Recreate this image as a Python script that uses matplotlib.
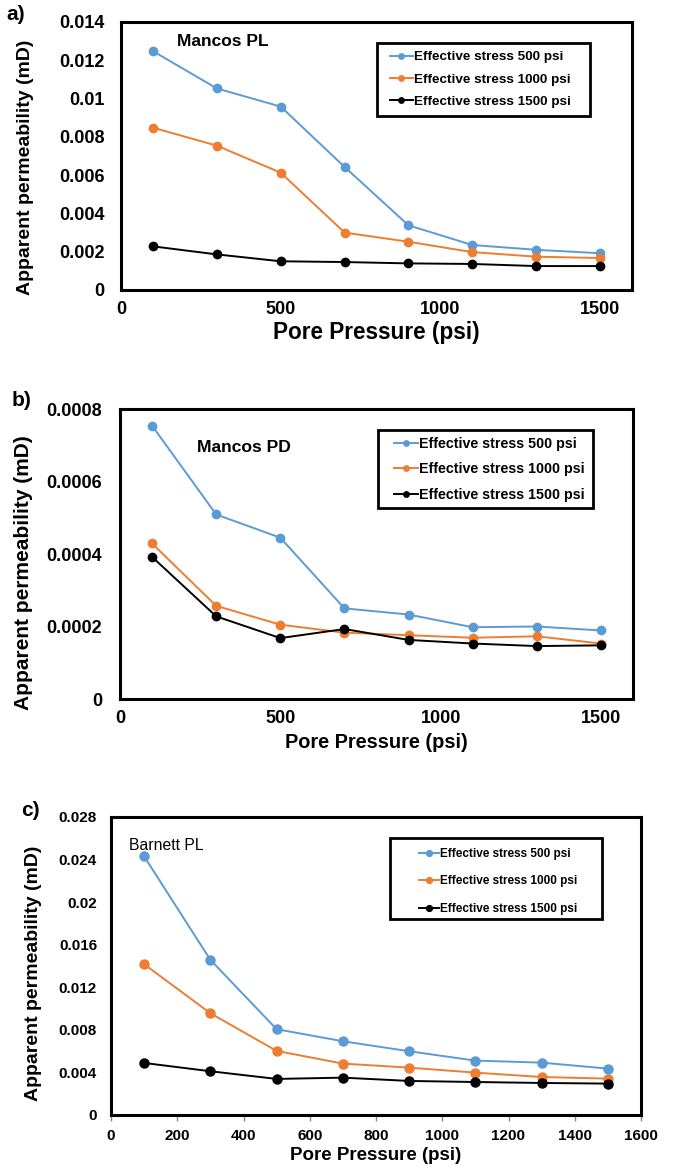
import matplotlib
matplotlib.use("Agg")
import matplotlib.pyplot as plt
from matplotlib.patches import Rectangle

plt.rcParams['font.family'] = ['Liberation Sans', 'DejaVu Sans']
plt.rcParams['font.weight'] = 'bold'

W, H = 678, 1167

pressure = [100, 300, 500, 700, 900, 1100, 1300, 1500]
labels = ['Effective stress 500 psi', 'Effective stress 1000 psi', 'Effective stress 1500 psi']
colors = ['#5B9BD5', '#ED7D31', 'black']

# Mancos PL
pl_500 = [0.01248, 0.01053, 0.00958, 0.00643, 0.00338, 0.00235, 0.00210, 0.00192]
pl_1000 = [0.00848, 0.00754, 0.00613, 0.00300, 0.00252, 0.00198, 0.00174, 0.00167]
pl_1500 = [0.00228, 0.00186, 0.00150, 0.00146, 0.00139, 0.00136, 0.00125, 0.00125]

# Mancos PD
pd_500 = [0.000754, 0.000509, 0.000445, 0.000250, 0.000233, 0.000198, 0.000200, 0.000189]
pd_1000 = [0.000429, 0.000257, 0.000205, 0.000183, 0.000176, 0.000169, 0.000173, 0.000153]
pd_1500 = [0.000392, 0.000228, 0.000168, 0.000193, 0.000163, 0.000153, 0.000146, 0.000148]

# Barnett PL
bpl_500 = [0.0243, 0.01458, 0.00806, 0.00693, 0.00599, 0.00511, 0.00492, 0.00436]
bpl_1000 = [0.01417, 0.00956, 0.00602, 0.00483, 0.00445, 0.00398, 0.00357, 0.00342]
bpl_1500 = [0.00489, 0.00411, 0.00339, 0.00351, 0.00320, 0.00310, 0.00301, 0.00295]


def rect(l, t, r, b):
    return [l / W, 1 - b / H, (r - l) / W, (b - t) / H]


fig = plt.figure(figsize=(W / 100, H / 100), dpi=100)


def panel(box, series, ylim, yticks, yfmt, xticks, tick_size, ypad, xpad, ms,
          name, name_xy, name_size, name_bold,
          frame, leg_xy, leg_size, leg_space,
          letter, letter_xy, ylab_xy, ylab_size, xlab_y, xlab_size):
    ax = fig.add_axes(rect(*box))
    for vals, c, lab in zip(series, colors, labels):
        ax.plot(pressure, vals, color=c, lw=1.4, marker='o', ms=ms, label=lab)
    ax.set_xlim(0, 1600)
    ax.set_ylim(*ylim)
    ax.set_xticks(xticks)
    ax.set_yticks(yticks)
    ax.set_yticklabels([yfmt(v) for v in yticks])
    ax.tick_params(labelsize=tick_size, length=0)
    ax.tick_params(axis='y', pad=ypad)
    ax.tick_params(axis='x', pad=xpad)
    for s in ax.spines.values():
        s.set_linewidth(2.2)

    ax.text(name_xy[0] / W, 1 - name_xy[1] / H, name, transform=fig.transFigure,
            fontsize=name_size, fontweight='bold' if name_bold else 'normal', va='center')

    # legend box drawn as its own rectangle, entries placed inside
    ax.add_patch(Rectangle((frame[0] / W, 1 - frame[3] / H),
                           (frame[2] - frame[0]) / W, (frame[3] - frame[1]) / H,
                           transform=fig.transFigure, facecolor='white',
                           edgecolor='black', lw=2, zorder=5, clip_on=False))
    leg = ax.legend(loc='upper left', bbox_to_anchor=(leg_xy[0] / W, 1 - leg_xy[1] / H),
                    bbox_transform=fig.transFigure, frameon=False,
                    prop={'size': leg_size, 'weight': 'bold'},
                    handlelength=1.7, handletextpad=0.05, labelspacing=leg_space,
                    borderpad=0, borderaxespad=0, markerscale=0.65)
    leg.set_zorder(6)

    fig.text(letter_xy[0] / W, 1 - letter_xy[1] / H, letter, fontsize=15,
             fontweight='bold', ha='center', va='center')
    fig.text(ylab_xy[0] / W, 1 - ylab_xy[1] / H, 'Apparent permeability (mD)',
             rotation=90, fontsize=ylab_size, fontweight='bold', ha='center', va='center')
    fig.text((box[0] + box[2]) / 2 / W, 1 - xlab_y / H, 'Pore Pressure (psi)',
             fontsize=xlab_size, fontweight='bold', ha='center', va='center')
    return ax


def fmt(v):
    return '0' if v == 0 else ('%g' % v)


def fmt4(v):
    return '0' if v == 0 else '%.4f' % v


panel((121, 22, 632, 290), [pl_500, pl_1000, pl_1500],
      (0, 0.014), [0, 0.002, 0.004, 0.006, 0.008, 0.01, 0.012, 0.014], fmt,
      [0, 500, 1000, 1500], 13, 12, 8, 6,
      'Mancos PL', (177, 41), 12.5, True,
      (377, 43, 590, 116), (390, 51), 9.7, 0.72,
      'a)', (16, 14), (26, 167), 14, 333, 16.3)

panel((120, 409, 633, 699), [pd_500, pd_1000, pd_1500],
      (0, 0.0008), [0, 0.0002, 0.0004, 0.0006, 0.0008], fmt4,
      [0, 500, 1000, 1500], 13, 13, 8, 6,
      'Mancos PD', (197, 447), 12.6, True,
      (378, 430, 593, 508), (394, 437), 10.3, 0.8,
      'b)', (22, 400), (24, 573), 15, 743, 14.4)

ax = panel((111, 817, 641, 1115), [bpl_500, bpl_1000, bpl_1500],
           (0, 0.028), [0, 0.004, 0.008, 0.012, 0.016, 0.02, 0.024, 0.028], fmt,
           list(range(0, 1601, 200)), 11, 10, 6, 6.5,
           'Barnett PL', (129, 846), 11.3, False,
           (390, 838, 602, 919), (419, 848), 8.5, 1.3,
           'c)', (30, 810), (34, 973), 14, 1156, 13.5)
ax.tick_params(axis='x', length=4, direction='out', width=1, color='#888888')

fig.savefig('out.png', dpi=100)
